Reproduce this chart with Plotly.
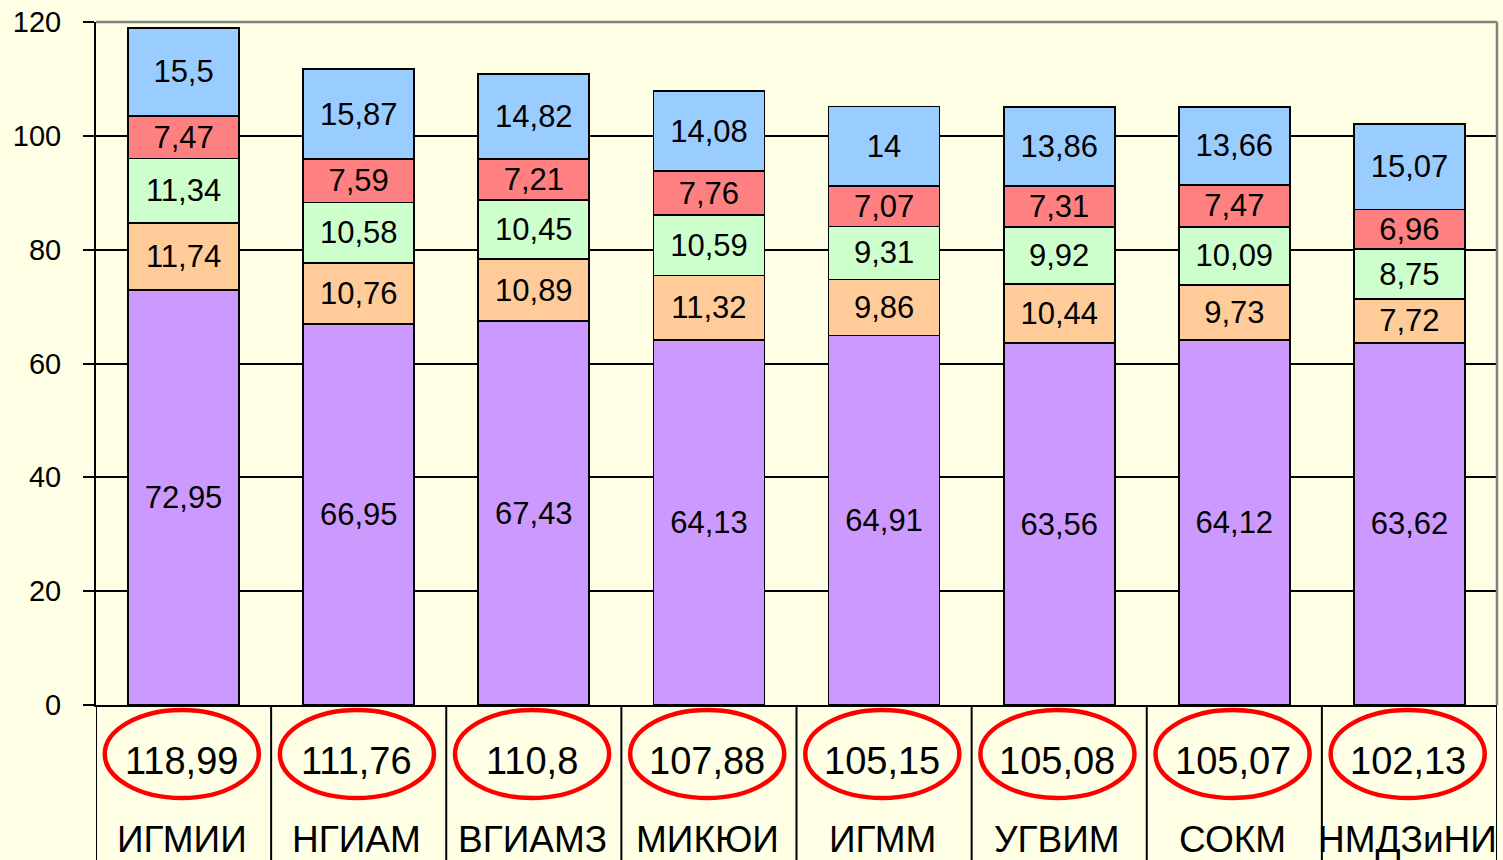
import plotly.graph_objects as go

categories = ["ИГМИИ", "НГИАМ", "ВГИАМЗ", "МИКЮИ", "ИГММ", "УГВИМ", "СОКМ", "НМДЗиНИ"]
purple_vals = [72.95, 66.95, 67.43, 64.13, 64.91, 63.56, 64.12, 63.62]
orange_vals = [11.74, 10.76, 10.89, 11.32, 9.86, 10.44, 9.73, 7.72]
green_vals = [11.34, 10.58, 10.45, 10.59, 9.31, 9.92, 10.09, 8.75]
red_vals = [7.47, 7.59, 7.21, 7.76, 7.07, 7.31, 7.47, 6.96]
blue_vals = [15.5, 15.87, 14.82, 14.08, 14, 13.86, 13.66, 15.07]
totals = [118.99, 111.76, 110.8, 107.88, 105.15, 105.08, 105.07, 102.13]
y_ticks = [0, 20, 40, 60, 80, 100, 120]

FONT = "Liberation Sans, Arial, sans-serif"
BG = "#FFFFE6"


def fmt(v):
    # decimal comma, as in the original
    return f"{v:g}".replace(".", ",")


x_pos = list(range(len(categories)))
series = [
    (purple_vals, "#CC99FF"),
    (orange_vals, "#FFCC99"),
    (green_vals, "#CCFFCC"),
    (red_vals, "#FF8080"),
    (blue_vals, "#99CCFF"),
]

fig = go.Figure()
for vals, color in series:
    fig.add_trace(go.Bar(
        x=x_pos,
        y=vals,
        text=[fmt(v) for v in vals],
        textposition="inside",
        insidetextanchor="middle",
        textangle=0,
        textfont=dict(family=FONT, size=31, color="black"),
        marker=dict(color=color, line=dict(color="black", width=1.8)),
        showlegend=False,
        hoverinfo="skip",
    ))

# plot height in px, used to place things under the axis in paper units
plot_h = 860 - 22 - 155
below = -155 / plot_h

shapes = []
annotations = []
for i, (cat, tot) in enumerate(zip(categories, totals)):
    shapes.append(dict(
        type="circle", xref="x", yref="paper",
        x0=i - 0.45, x1=i + 0.43,
        y0=(705 - 798) / plot_h, y1=(705 - 710) / plot_h,
        line=dict(color="#FF0000", width=4.5), layer="above",
    ))
    annotations.append(dict(
        x=i - 0.01, y=(705 - 761) / plot_h, xref="x", yref="paper",
        text=fmt(tot), showarrow=False, yanchor="middle",
        font=dict(family=FONT, size=38, color="black"),
    ))
    annotations.append(dict(
        x=i - 0.01, y=(705 - 839) / plot_h, xref="x", yref="paper",
        text=cat, showarrow=False, yanchor="middle",
        font=dict(family=FONT, size=37, color="black"),
    ))

# separators of the table cells under the axis
for k in range(len(categories) + 1):
    shapes.append(dict(
        type="line", xref="x", yref="paper",
        x0=k - 0.5, x1=k - 0.5, y0=0, y1=below - 0.01,
        line=dict(color="black", width=2),
    ))

# grey plot-area border on top and right
shapes.append(dict(type="line", xref="paper", yref="paper", x0=0, x1=1, y0=1, y1=1,
                   line=dict(color="#808080", width=2.5)))
shapes.append(dict(type="line", xref="paper", yref="paper", x0=1, x1=1, y0=0, y1=1,
                   line=dict(color="#808080", width=2.5)))

fig.update_layout(
    barmode="stack",
    bargap=0.366,
    width=1503,
    height=860,
    margin=dict(l=96, r=6, t=22, b=155),
    paper_bgcolor=BG,
    plot_bgcolor=BG,
    shapes=shapes,
    annotations=annotations,
    uniformtext=dict(minsize=31, mode="show"),
    xaxis=dict(
        range=[-0.5, len(categories) - 0.5],
        showticklabels=False,
        showgrid=False,
        zeroline=False,
        showline=True,
        linecolor="black",
        linewidth=2,
        ticks="",
        fixedrange=True,
    ),
    yaxis=dict(
        range=[0, 120],
        tickvals=y_ticks,
        ticktext=[str(t) for t in y_ticks],
        tickfont=dict(family=FONT, size=29, color="black"),
        ticks="outside",
        ticklen=11,
        tickwidth=2,
        tickcolor="black",
        ticklabelstandoff=16,
        showgrid=True,
        gridcolor="black",
        gridwidth=1.5,
        zeroline=False,
        showline=True,
        linecolor="black",
        linewidth=2,
        fixedrange=True,
    ),
)

# drop the default page margin so the figure sits at the window's corner
post_script = f"""
document.body.style.margin = '0';
document.body.style.overflow = 'hidden';
document.body.style.background = '{BG}';
"""

fig.write_html("out.html", post_script=post_script, config={"displayModeBar": False})
